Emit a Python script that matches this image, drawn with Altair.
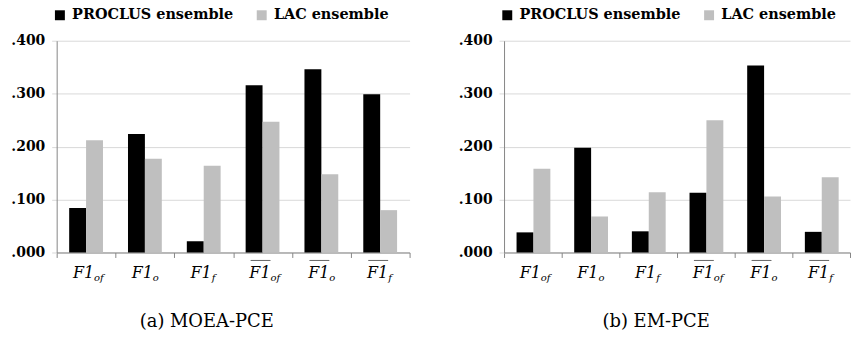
import altair as alt
import pandas as pd

categories = ["F1of", "F1o", "F1f", "mF1of", "mF1o", "mF1f"]
subscripts = ["of", "o", "f", "of", "o", "f"]
overlined = [False, False, False, True, True, True]
series = ["PROCLUS ensemble", "LAC ensemble"]

moea_proclus = [0.084, 0.224, 0.021, 0.316, 0.346, 0.299]
moea_lac = [0.212, 0.177, 0.164, 0.247, 0.148, 0.080]
em_proclus = [0.038, 0.198, 0.040, 0.113, 0.353, 0.039]
em_lac = [0.158, 0.068, 0.114, 0.250, 0.106, 0.142]

captions = ["(a) MOEA-PCE", "(b) EM-PCE"]
y_ticks = [0.0, 0.1, 0.2, 0.3, 0.4]

SERIF = "DejaVu Serif"
GRID = "#d9d9d9"
AXIS = "#868686"


def panel(proclus, lac, caption, width, cap_x):
    rows = []
    for c, p, l in zip(categories, proclus, lac):
        rows.append({"cat": c, "series": series[0], "value": p})
        rows.append({"cat": c, "series": series[1], "value": l})
    df = pd.DataFrame(rows)
    lab = pd.DataFrame({"cat": categories, "sub": subscripts, "over": overlined,
                        "main": ["F1"] * len(categories)})
    cap = pd.DataFrame({"caption": [caption]})

    xscale = alt.Scale(domain=categories, paddingInner=0, paddingOuter=0)
    base = alt.Chart(df)
    bars = base.mark_bar().encode(
        x=alt.X("cat:N", sort=categories, scale=xscale,
                axis=alt.Axis(title=None, labels=False, tickBand="extent",
                              tickSize=5, tickColor=AXIS, domainColor=AXIS,
                              grid=False)),
        xOffset=alt.XOffset("series:N", sort=series,
                            scale=alt.Scale(domain=series, paddingOuter=0.74, paddingInner=0)),
        y=alt.Y("value:Q", scale=alt.Scale(domain=[0, 0.4], nice=False),
                axis=alt.Axis(title=None, values=y_ticks,
                              labelExpr="substring(format(datum.value, '.3f'), 1)",
                              grid=True, gridColor=GRID, tickSize=5, tickColor=GRID,
                              domainColor=AXIS, labelFont=SERIF, labelFontWeight="bold",
                              labelFontSize=14, labelColor="black", labelPadding=7)),
        color=alt.Color("series:N", sort=series,
                        scale=alt.Scale(domain=series, range=["#000000", "#bfbfbf"]),
                        legend=alt.Legend(orient="none", legendX=-4, legendY=-33,
                                          direction="horizontal", title=None,
                                          symbolType="square", symbolSize=100,
                                          symbolStrokeWidth=0, labelFont=SERIF,
                                          labelFontWeight="bold", labelFontSize=14.5,
                                          labelColor="black", labelOffset=5,
                                          labelLimit=0, columnPadding=21, padding=0)),
    )
    lbase = alt.Chart(lab)
    main = lbase.mark_text(font=SERIF, fontStyle="italic", fontSize=16, align="right",
                           baseline="alphabetic", dx=8, color="black").encode(
        x=alt.X("cat:N", sort=categories, scale=xscale),
        y=alt.value(239), text="main:N")
    sub = lbase.mark_text(font=SERIF, fontStyle="italic", fontSize=10, align="left",
                          baseline="alphabetic", dx=8, color="black").encode(
        x=alt.X("cat:N", sort=categories, scale=xscale),
        y=alt.value(242), text="sub:N")
    over = lbase.transform_filter("datum.over").mark_tick(
        orient="horizontal", size=20, thickness=1, xOffset=-2, color="#222").encode(
        x=alt.X("cat:N", sort=categories, scale=xscale),
        y=alt.value(221))
    captxt = alt.Chart(cap).mark_text(font=SERIF, fontSize=18, align="center",
                                      baseline="middle", color="black").encode(
        x=alt.value(cap_x), y=alt.value(283), text="caption:N")
    return alt.layer(bars, main, sub, over, captxt).properties(width=width, height=213)


left = panel(moea_proclus, moea_lac, captions[0], 355, 151)
right = panel(em_proclus, em_lac, captions[1], 348, 153)

chart = alt.hconcat(left, right, spacing=47).resolve_scale(color="independent").properties(
    padding={"left": 10, "top": 7, "right": 0, "bottom": 0}
).configure_view(stroke=None)

chart.save("out.html", embed_options={"renderer": "svg", "actions": False})
